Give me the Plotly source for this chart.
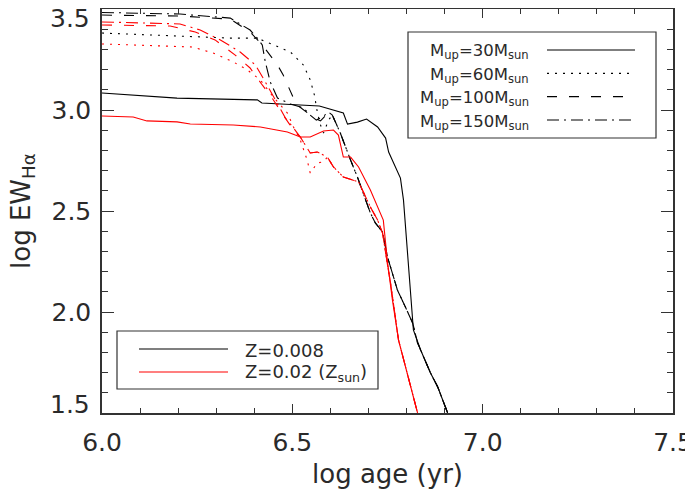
import plotly.graph_objects as go

# ---------------- data ----------------
# Z = 0.008 (black)
age_z008_m30 = [6.000, 6.197, 6.408, 6.420, 6.571, 6.634, 6.645, 6.671, 6.695, 6.724, 6.745, 6.753,
                6.784, 6.792, 6.818, 6.829, 6.837, 6.863, 6.882, 6.908]
ew_z008_m30 = [3.084, 3.059, 3.050, 3.035, 3.020, 2.985, 2.930, 2.940, 2.955, 2.916, 2.861, 2.792,
               2.663, 2.554, 1.911, 1.847, 1.812, 1.698, 1.629, 1.500]

age_z008_m60 = [6.000, 6.205, 6.337, 6.408, 6.450, 6.495, 6.529, 6.547, 6.558, 6.566, 6.574, 6.582, 6.595]
ew_z008_m60 = [3.381, 3.366, 3.356, 3.356, 3.322, 3.287, 3.223, 3.149, 3.074, 2.985, 2.926, 2.886, 2.950]

age_z008_m100 = [6.000, 6.205, 6.337, 6.389, 6.421, 6.437, 6.461, 6.476, 6.487, 6.503, 6.516, 6.537,
                 6.558, 6.574, 6.589, 6.600]
ew_z008_m100 = [3.470, 3.465, 3.450, 3.386, 3.322, 3.282, 3.223, 3.173, 3.124, 3.059, 3.020, 2.990,
                2.960, 2.946, 2.975, 2.990]

age_z008_m150 = [6.000, 6.205, 6.337, 6.389, 6.408, 6.421, 6.429, 6.442, 6.461, 6.495, 6.529, 6.547,
                 6.563, 6.579, 6.595]
ew_z008_m150 = [3.483, 3.475, 3.455, 3.396, 3.356, 3.322, 3.238, 3.139, 3.059, 3.030, 3.010, 2.975,
                2.950, 2.965, 2.990]

# common late-age tail of the Z=0.008 tracks (Mup >= 60)
age_z008_tail = [6.605, 6.626, 6.639, 6.653, 6.671, 6.687, 6.705, 6.718, 6.737, 6.750, 6.776, 6.797,
                 6.816, 6.829, 6.837, 6.863, 6.882, 6.908]
ew_z008_tail = [2.975, 2.886, 2.817, 2.752, 2.668, 2.589, 2.490, 2.441, 2.396, 2.272, 2.109, 2.025,
                1.946, 1.847, 1.812, 1.698, 1.629, 1.500]

# Z = 0.02 (red)
age_z02_m30 = [6.000, 6.082, 6.118, 6.197, 6.232, 6.345, 6.416, 6.487, 6.521, 6.547, 6.582, 6.608,
               6.621, 6.634, 6.653, 6.674, 6.705, 6.739, 6.750, 6.763, 6.779, 6.829]
ew_z02_m30 = [2.970, 2.965, 2.946, 2.941, 2.931, 2.926, 2.916, 2.891, 2.866, 2.866, 2.896, 2.901,
              2.876, 2.767, 2.767, 2.718, 2.604, 2.455, 2.248, 2.059, 1.861, 1.500]

age_z02_m60 = [6.000, 6.237, 6.292, 6.345, 6.382, 6.416, 6.450, 6.487, 6.503, 6.521, 6.539, 6.547,
               6.566, 6.582, 6.592]
ew_z02_m60 = [3.327, 3.312, 3.282, 3.238, 3.198, 3.149, 3.064, 2.985, 2.916, 2.851, 2.752, 2.688,
              2.738, 2.743, 2.767]

age_z02_m100 = [6.000, 6.179, 6.245, 6.297, 6.350, 6.389, 6.421, 6.447, 6.476, 6.503]
ew_z02_m100 = [3.421, 3.416, 3.386, 3.347, 3.272, 3.208, 3.124, 3.059, 2.975, 2.901]

age_z02_m150 = [6.000, 6.205, 6.258, 6.311, 6.363, 6.403, 6.429, 6.455, 6.482, 6.503]
ew_z02_m150 = [3.436, 3.426, 3.396, 3.347, 3.287, 3.223, 3.139, 3.050, 2.960, 2.911]

# common late-age tail of the Z=0.02 tracks (Mup >= 100); Mup=60 joins it at 6.592
age_z02_tail = [6.521, 6.547, 6.566, 6.592, 6.608, 6.634, 6.661, 6.674, 6.684, 6.705, 6.724, 6.737,
                6.750, 6.758, 6.779, 6.829]
ew_z02_tail = [2.866, 2.787, 2.792, 2.767, 2.718, 2.668, 2.653, 2.644, 2.604, 2.520, 2.455, 2.391,
               2.233, 2.144, 1.861, 1.500]

x_ticks = [6.0, 6.5, 7.0, 7.5]
x_ticktext = ["6.0", "6.5", "7.0", "7.5"]
y_ticks = [1.5, 2.0, 2.5, 3.0, 3.5]
y_ticktext = ["", "2.0", "2.5", "3.0", ""]

mup_labels = ["M<sub>up</sub>=30M<sub>sun</sub>", "M<sub>up</sub>=60M<sub>sun</sub>",
              "M<sub>up</sub>=100M<sub>sun</sub>", "M<sub>up</sub>=150M<sub>sun</sub>"]
z_labels = ["Z=0.008", "Z=0.02 (Z<sub>sun</sub>)"]

# ---------------- styles ----------------
BLACK = "#000000"
RED = "#ff0000"
DASHES = {"m30": "solid", "m60": "2px,6px", "m100": "10px,12px", "m150": "12px,5px,2px,5px"}
FONT = "DejaVu Sans"
TXT = "#2a2a2a"
AX = "#333333"

PAGE_OFF = 8                      # default body margin of the html page
W, H = 693 - PAGE_OFF, 493 - PAGE_OFF
PL, PT, PR, PB = 102, 9, 673, 413  # plot-area edges in page pixels
L, T = PL - PAGE_OFF, PT - PAGE_OFF
R, B = W - (PR - PAGE_OFF), H - (PB - PAGE_OFF)
PW, PH = PR - PL, PB - PT


def px(xp):
    return (xp - PL) / PW


def py(yp):
    return (PB - yp) / PH


def tail_from(ages, ews, tail_a, tail_e):
    ta = [a for a in tail_a if a > ages[-1]]
    te = [e for a, e in zip(tail_a, tail_e) if a > ages[-1]]
    return ages + ta, ews + te


fig = go.Figure()

curves = [
    (age_z008_m30, ew_z008_m30, None, None, BLACK, "m30"),
    (age_z008_m60, ew_z008_m60, age_z008_tail, ew_z008_tail, BLACK, "m60"),
    (age_z008_m100, ew_z008_m100, age_z008_tail, ew_z008_tail, BLACK, "m100"),
    (age_z008_m150, ew_z008_m150, age_z008_tail, ew_z008_tail, BLACK, "m150"),
    (age_z02_m60, ew_z02_m60, age_z02_tail, ew_z02_tail, RED, "m60"),
    (age_z02_m100, ew_z02_m100, age_z02_tail, ew_z02_tail, RED, "m100"),
    (age_z02_m150, ew_z02_m150, age_z02_tail, ew_z02_tail, RED, "m150"),
    (age_z02_m30, ew_z02_m30, None, None, RED, "m30"),
]
for a, e, ta, te, col, key in curves:
    if ta is not None:
        a, e = tail_from(list(a), list(e), ta, te)
    fig.add_trace(go.Scatter(x=a, y=e, mode="lines", showlegend=False, hoverinfo="skip",
                             line=dict(color=col, width=1.1, dash=DASHES[key])))

axis_common = dict(showline=True, linecolor=AX, linewidth=1.5, mirror="allticks",
                   ticks="inside", tickcolor=AX, showgrid=False, zeroline=False, automargin=False,
                   tickfont=dict(family=FONT, size=25, color=TXT))
fig.update_xaxes(range=[6.0, 7.5], tickvals=x_ticks, ticktext=x_ticktext, ticklen=9, tickwidth=1.2,
                 minor=dict(dtick=0.1, ticklen=5, ticks="inside", tickcolor=AX, tickwidth=1.2),
                 ticklabelstandoff=6, **axis_common)
fig.update_yaxes(range=[1.5, 3.5], tickvals=y_ticks, ticktext=y_ticktext, ticklen=12, tickwidth=1.2,
                 minor=dict(dtick=0.1, ticklen=6, ticks="inside", tickcolor=AX, tickwidth=1.2),
                 ticklabelstandoff=4, **axis_common)

shapes = []
ann = []
# edge y tick labels (kept inside the axis span as in the original)
ann.append(dict(text="3.5", x=px(92), y=py(18.5), xref="paper", yref="paper", xanchor="right",
                yanchor="middle", showarrow=False, font=dict(family=FONT, size=25, color=TXT)))
ann.append(dict(text="1.5", x=px(92), y=py(404), xref="paper", yref="paper", xanchor="right",
                yanchor="middle", showarrow=False, font=dict(family=FONT, size=25, color=TXT)))
# axis titles
ann.append(dict(text="log age (yr)", x=0.5, y=py(474), xref="paper", yref="paper", xanchor="center",
                yanchor="middle", showarrow=False, font=dict(family=FONT, size=26, color=TXT)))
ann.append(dict(text="log EW<sub>H\u03b1</sub>", x=px(22), y=py(211), xref="paper", yref="paper",
                xanchor="center", yanchor="middle", textangle=-90, showarrow=False,
                font=dict(family=FONT, size=26, color=TXT)))

# legend 1: upper mass limits (line styles)
shapes.append(dict(type="rect", xref="paper", yref="paper", x0=px(408), x1=px(656), y0=py(138), y1=py(32),
                   line=dict(color=AX, width=1.2), fillcolor="white", layer="below"))
rows1 = [50, 73.3, 96.7, 120]
for lab, key, yy in zip(mup_labels, ["m30", "m60", "m100", "m150"], rows1):
    shapes.append(dict(type="line", xref="paper", yref="paper", x0=px(547), x1=px(635), y0=py(yy), y1=py(yy),
                       line=dict(color=BLACK, width=1.2, dash=DASHES[key])))
    ann.append(dict(text=lab, x=px(531), y=py(yy + 2), xref="paper", yref="paper", xanchor="right",
                    yanchor="middle", showarrow=False, font=dict(family=FONT, size=16.5, color=TXT)))

# legend 2: metallicity (colours)
shapes.append(dict(type="rect", xref="paper", yref="paper", x0=px(117), x1=px(378), y0=py(389), y1=py(331),
                   line=dict(color=AX, width=1.2), fillcolor="white", layer="below"))
for lab, col, yy in zip(z_labels, [BLACK, RED], [349, 372]):
    shapes.append(dict(type="line", xref="paper", yref="paper", x0=px(139), x1=px(228), y0=py(yy), y1=py(yy),
                       line=dict(color=col, width=1.2)))
    ann.append(dict(text=lab, x=px(243), y=py(yy + 1), xref="paper", yref="paper", xanchor="left",
                    yanchor="middle", showarrow=False, font=dict(family=FONT, size=18, color=TXT)))

fig.update_layout(width=W, height=H, margin=dict(l=L, r=R, t=T, b=B, pad=0, autoexpand=False),
                  paper_bgcolor="white", plot_bgcolor="white", shapes=shapes, annotations=ann,
                  showlegend=False)

fig.write_html("out.html")
